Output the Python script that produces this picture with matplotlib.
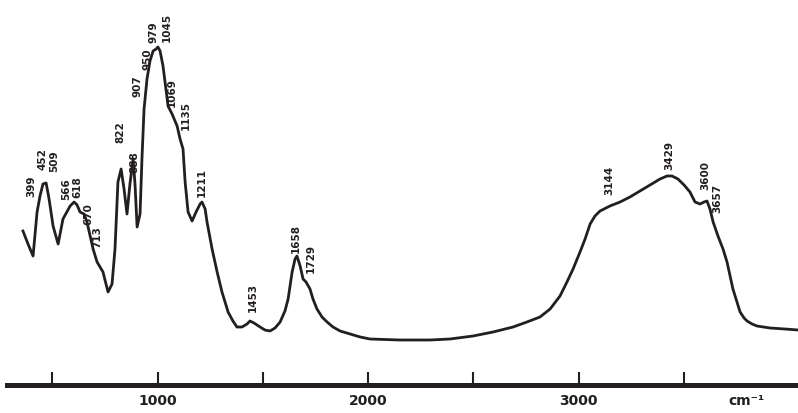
import matplotlib
matplotlib.use("Agg")
import matplotlib.pyplot as plt

# IR spectrum: wavenumber (cm-1) vs. relative absorbance (a.u.)
wavenumber = [
    361, 385, 409, 428, 442, 456, 471, 485, 504, 528,
    551, 585, 604, 618, 632, 651, 665, 680, 694, 713,
    741, 765, 784, 798, 812, 827, 841, 855, 869, 884,
    893, 903, 917, 926, 936, 950, 964, 979, 993, 1002,
    1012, 1026, 1040, 1050, 1069, 1093, 1107, 1121, 1131, 1145,
    1164, 1183, 1202, 1211, 1226, 1235, 1259, 1283, 1306, 1335,
    1358, 1377, 1401, 1425, 1439, 1458, 1487, 1510, 1534, 1558,
    1582, 1605, 1620, 1639, 1653, 1662, 1677, 1691, 1705, 1724,
    1738, 1757, 1781, 1805, 1833, 1867, 1914, 1962, 2009, 2151,
    2294, 2389, 2498, 2593, 2688, 2754, 2816, 2864, 2911, 2944,
    2973, 3006, 3030, 3054, 3077, 3101, 3148, 3196, 3243, 3291,
    3338, 3386, 3419, 3443, 3471, 3500, 3528, 3552, 3576, 3595,
    3609, 3623, 3638, 3661, 3685, 3704, 3732, 3751, 3766, 3785,
    3799, 3823, 3846, 3908, 3979, 4041,
]
absorbance = [
    1.51, 1.38, 1.26, 1.70, 1.86, 1.98, 1.99, 1.83, 1.56, 1.38,
    1.63, 1.76, 1.80, 1.77, 1.70, 1.68, 1.60, 1.46, 1.33, 1.20,
    1.10, 0.90, 0.98, 1.33, 2.00, 2.13, 1.93, 1.68, 1.98, 2.23,
    1.98, 1.55, 1.68, 2.23, 2.73, 3.03, 3.21, 3.31, 3.33, 3.35,
    3.31, 3.16, 2.93, 2.76, 2.68, 2.56, 2.43, 2.33, 2.00, 1.70,
    1.61, 1.70, 1.78, 1.80, 1.73, 1.60, 1.33, 1.10, 0.90, 0.70,
    0.61, 0.55, 0.55, 0.58, 0.61, 0.59, 0.55, 0.52, 0.51, 0.54,
    0.60, 0.71, 0.83, 1.10, 1.23, 1.26, 1.16, 1.03, 1.00, 0.93,
    0.83, 0.73, 0.65, 0.60, 0.55, 0.51, 0.48, 0.45, 0.43, 0.42,
    0.42, 0.43, 0.46, 0.50, 0.55, 0.60, 0.65, 0.73, 0.86, 1.00,
    1.13, 1.30, 1.43, 1.58, 1.66, 1.71, 1.76, 1.80, 1.85, 1.91,
    1.97, 2.03, 2.06, 2.06, 2.03, 1.97, 1.90, 1.80, 1.78, 1.80,
    1.81, 1.73, 1.60, 1.46, 1.33, 1.20, 0.93, 0.80, 0.70, 0.64,
    0.61, 0.58, 0.56, 0.54, 0.53, 0.52,
]

# peak annotations: position (cm-1) and where the label starts
peak_pos = [399, 452, 509, 566, 618, 670, 713, 822, 888, 907, 950, 979,
            1045, 1069, 1135, 1211, 1453, 1658, 1729, 3144, 3429, 3600, 3657]
peak_label_base = [1.86, 2.13, 2.11, 1.83, 1.85, 1.58, 1.35, 2.40, 2.10, 2.86,
                   3.13, 3.40, 3.41, 2.76, 2.53, 1.86, 0.71, 1.30, 1.10, 1.88,
                   2.13, 1.93, 1.70]

ticks = [500, 1000, 1500, 2000, 2500, 3000, 3500]
tick_labels = ["", "1000", "", "2000", "", "3000", ""]
unit_pos = 3794
ink = "#231f20"

fig = plt.figure(figsize=(7.98, 4.14), dpi=100)
ax = fig.add_axes([0, 0, 1, 1])
ax.plot(wavenumber, absorbance, color=ink, lw=2.0)

for wn, base in zip(peak_pos, peak_label_base):
    ax.text(wn, base, str(wn), rotation=90, ha="center", va="bottom",
            fontsize=7.5, fontweight="heavy", color=ink)

ax.set_xlim(252, 4041)
ax.set_ylim(-0.31, 3.83)
for s in ["top", "left", "right"]:
    ax.spines[s].set_visible(False)
ax.spines["bottom"].set_position(("data", -0.025))
ax.spines["bottom"].set_linewidth(3.6)
ax.spines["bottom"].set_color(ink)
ax.spines["bottom"].set_bounds(285, 4041)
ax.set_yticks([])
ax.set_xticks(ticks, tick_labels)
ax.set_xticks([unit_pos], ["cm⁻¹"], minor=True)
ax.tick_params(axis="x", which="major", direction="in", length=9.5, width=1.5,
               color=ink, pad=6)
ax.tick_params(axis="x", which="minor", length=0, pad=6)
for lab in ax.get_xticklabels(which="both"):
    lab.set_fontweight("bold")
    lab.set_fontsize(10)
    lab.set_color(ink)

fig.savefig("out.png", dpi=100, facecolor="white")
